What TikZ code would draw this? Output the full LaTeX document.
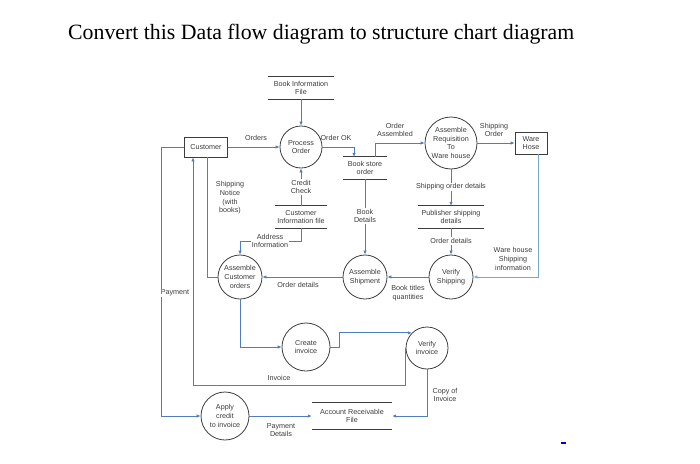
\documentclass[tikz,border=0pt]{standalone}
\usepackage{fontspec}
\setmainfont{Liberation Serif}
\setsansfont{Liberation Sans}
\usetikzlibrary{arrows.meta}
\definecolor{flowblue}{RGB}{79,125,189}
\definecolor{lightflow}{RGB}{120,170,200}
\definecolor{inkgray}{RGB}{60,60,60}
\tikzset{
  proc/.style={circle, draw=inkgray, thick, minimum size=44pt, inner sep=0pt, align=center,
    font=\sffamily\fontsize{7.2}{8.6}\selectfont, text=inkgray},
  extbox/.style={rectangle, draw=inkgray, thick, inner sep=0pt, align=center,
    font=\sffamily\fontsize{7.2}{8.6}\selectfont, text=inkgray},
  store/.style={inner sep=0pt, align=center, minimum height=22pt,
    font=\sffamily\fontsize{7.2}{8.6}\selectfont, text=inkgray,
    append after command={(\tikzlastnode.north west) edge[draw=inkgray, thick] (\tikzlastnode.north east)
      (\tikzlastnode.south west) edge[draw=inkgray, thick] (\tikzlastnode.south east)}},
  lbl/.style={inner sep=1pt, align=center, font=\sffamily\fontsize{7.2}{8.6}\selectfont, text=inkgray},
  lblw/.style={lbl, fill=white},
  flow/.style={draw=flowblue, thick, -{Latex[length=4pt,width=3.5pt]}},
  plainflow/.style={draw=flowblue, thick}
}
\begin{document}
\begin{tikzpicture}[x=1pt,y=-1pt]
  \useasboundingbox (0,0) rectangle (700,463);
  \node (title) [anchor=base west, inner sep=0pt, font=\fontsize{21.8}{26}\selectfont] at (68,39)
    {Convert this Data flow diagram to structure chart diagram};

  \node (cust) [extbox, minimum width=43pt, minimum height=20pt] at (206,147) {Customer};
  \node (wh) [extbox, minimum width=32pt, minimum height=22pt] at (531,143) {Ware\\Hose};

  \node (po) [proc, minimum size=42pt] at (301,147) {Process\\Order};
  \node (arw) [proc, minimum size=52pt] at (451,143) {Assemble\\Requisition\\To\\Ware house};
  \node (vs) [proc] at (451,277) {Verify\\Shipping};
  \node (ash) [proc] at (365,277) {Assemble\\Shipment};
  \node (aco) [proc] at (240,277) {Assemble\\Customer\\orders};
  \node (ci) [proc, minimum size=48pt] at (306,347) {Create\\invoice};
  \node (vi) [proc, minimum size=42pt] at (427,348) {Verify\\invoice};
  \node (acr) [proc, minimum size=48pt] at (225,416) {Apply\\credit\\to invoice};

  \node (bif) [store, minimum width=65pt] at (301,88) {Book Information\\File};
  \node (bso) [store, minimum width=43pt] at (365,168) {Book store\\order};
  \node (cif) [store, minimum width=52pt] at (301,217) {Customer\\Information file};
  \node (psd) [store, minimum width=65pt] at (451,217) {Publisher shipping\\details};
  \node (arf) [store, minimum width=80pt, minimum height=26pt] at (352,416) {Account Receivable\\File};

  \draw[flow] (bif) -- (po);
  \draw[flow] (cust) -- (po);
  \draw[flow] (po.east) -| ([xshift=-11pt]bso.north);
  \draw[flow] ([xshift=10pt]bso.north) |- (arw.west);
  \draw[flow] (arw) -- (wh);
  \draw[flow] (arw) -- (psd);
  \draw[flow] (psd) -- (vs);
  \draw[flow, draw=lightflow] ([xshift=7pt]wh.south) |- (vs.east);
  \draw[flow] (vs) -- (ash);
  \draw[flow] (bso) -- (ash);
  \draw[flow] (ash) -- (aco);
  \draw[flow] (cif) -- (po);
  \draw[flow] (cif.south) -- ++(0,13) -| (aco.north);
  \draw[plainflow] (aco.west) -| ([xshift=1pt]cust.south);
  \draw[flow] (vi.west) -- ++(0,37) -| ([xshift=-13pt]cust.south);
  \draw[flow] (aco.south) |- (ci.west);
  \draw[flow] (ci.east) -- ++(9,0) |- (vi.135);
  \draw[flow] (vi.south) |- (arf.east);
  \draw[flow] (cust.west) -- ++(-23,0) |- (acr.west);
  \draw[flow] (acr) -- (arf);

  \node (l-orders) [lbl] at (256,138) {Orders};
  \node (l-ok) [lbl] at (336,138) {Order OK};
  \node (l-assembled) [lbl] at (395,130) {Order\\Assembled};
  \node (l-shiporder) [lbl] at (494,130) {Shipping\\Order};
  \node (l-shipdetails) [lblw] at (451,187) {Shipping order details};
  \node (l-orderdet) [lblw] at (451,241) {Order details};
  \node (l-whinfo) [lbl] at (513,259) {Ware house\\Shipping\\information};
  \node (l-bookdet) [lblw] at (365,216) {Book\\Details};
  \node (l-credit) [lblw] at (301,187) {Credit\\Check};
  \node (l-address) [lblw] at (270,241) {Address\\Information};
  \node (l-notice) [lbl] at (230,198) {Shipping\\Notice\\(with\\books)};
  \node (l-orderdet2) [lbl] at (298,285) {Order details};
  \node (l-titles) [lbl] at (408,293) {Book titles\\quantities};
  \node (l-invoice) [lbl] at (279,378) {Invoice};
  \node (l-copy) [lbl] at (445,395) {Copy of\\Invoice};
  \node (l-payment) [lblw] at (175,293) {Payment};
  \node (l-paydet) [lbl] at (281,430) {Payment\\Details};

  \draw[blue!80!black, line width=1.5pt] (561,443) -- (566,443);
\end{tikzpicture}
\end{document}
